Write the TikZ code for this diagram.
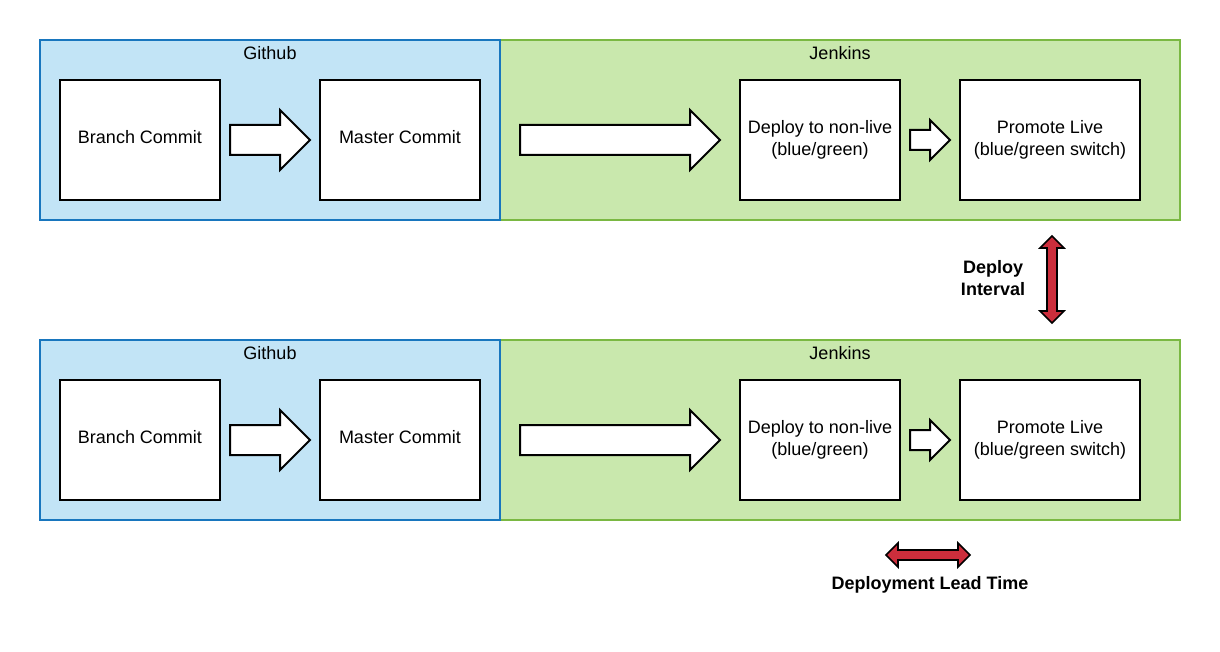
\documentclass[tikz,border=0pt]{standalone}
\usepackage{fontspec}
\setmainfont{Liberation Sans}
\begin{document}
\begin{tikzpicture}[x=1pt,y=-1pt,
  gitframe/.style={draw=ghstroke,fill=ghfill,line width=1.6pt},
  jenkframe/.style={draw=jkstroke,fill=jkfill,line width=1.6pt},
  stepbox/.style={draw=black,fill=white,line width=2pt,minimum width=#1,minimum height=120pt,align=center,font=\fontsize{18pt}{21.6pt}\selectfont,inner sep=0pt},
  stepbox/.default=160pt,
  frametitle/.style={font=\fontsize{18pt}{21.6pt}\selectfont,anchor=center},
  blockarr/.style={draw=black,fill=white,line width=2pt,line join=miter},
  redarr/.style={draw=black,fill=redfill,line width=1.6pt,line join=miter},
  boldlabel/.style={font=\fontsize{18pt}{21.6pt}\selectfont\bfseries,align=center}
]
\definecolor{ghfill}{RGB}{194,228,246}
\definecolor{ghstroke}{RGB}{24,118,190}
\definecolor{jkfill}{RGB}{201,232,173}
\definecolor{jkstroke}{RGB}{122,184,66}
\definecolor{redfill}{RGB}{204,46,60}
\path[use as bounding box] (0,0) rectangle (1220,652);
\fill[white] (0,0) rectangle (1220,652);

\foreach \r/\dy in {a/0,b/300}{
  \begin{scope}[yshift=-\dy pt]
  \draw[jenkframe] (500,40) rectangle (1180,220);
  \draw[gitframe] (40,40) rectangle (500,220);
  \node[frametitle] (gh\r) at (270,53) {Github};
  \node[frametitle] (jk\r) at (840,53) {Jenkins};
  \node[stepbox] (branch\r) at (140,140) {\raisebox{3pt}[\height][\depth]{Branch Commit}};
  \node[stepbox] (master\r) at (400,140) {\raisebox{3pt}[\height][\depth]{Master Commit}};
  \node[stepbox] (deploy\r) at (820,140) {Deploy to non-live\\(blue/green)};
  \node[stepbox=180pt] (promote\r) at (1050,140) {Promote Live\\(blue/green switch)};
  \draw[blockarr] (230,125) -- (280,125) -- (280,110) -- (310,140) -- (280,170) -- (280,155) -- (230,155) -- cycle;
  \draw[blockarr] (520,125) -- (690,125) -- (690,110) -- (720,140) -- (690,170) -- (690,155) -- (520,155) -- cycle;
  \draw[blockarr] (910,130) -- (930,130) -- (930,120) -- (950,140) -- (930,160) -- (930,150) -- (910,150) -- cycle;
  \end{scope}
}

% Deploy interval vertical double arrow
\draw[redarr] (1052,236) -- (1064,248) -- (1057,248) -- (1057,311) -- (1064,311) -- (1052,323) -- (1040,311) -- (1047,311) -- (1047,248) -- (1040,248) -- cycle;
\node[boldlabel] (interval) at (993,278) {Deploy\\Interval};

% Deployment lead time horizontal double arrow
\draw[redarr] (886,555) -- (898,543) -- (898,550) -- (958,550) -- (958,543) -- (970,555) -- (958,567) -- (958,560) -- (898,560) -- (898,567) -- cycle;
\node[boldlabel] (leadtime) at (930,585) {Deployment Lead Time};
\end{tikzpicture}
\end{document}
